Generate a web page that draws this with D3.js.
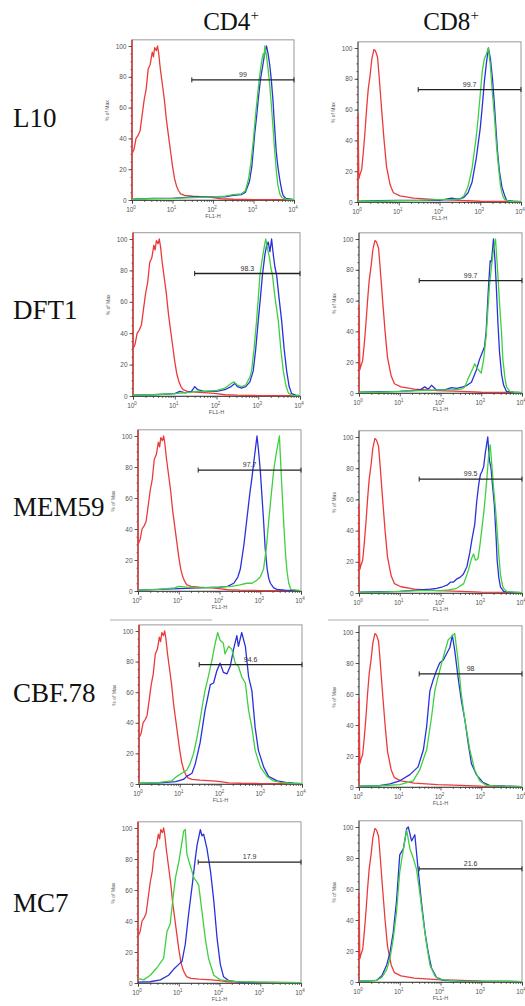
<!DOCTYPE html>
<html>
<head>
<meta charset="utf-8">
<script src="https://cdn.jsdelivr.net/npm/d3@7"></script>
<style>
  body { margin: 0; background: #fff; }
  svg { display: block; }
</style>
</head>
<body>
<div id="chart"></div>
<script>
// ---- data: [log10(FL1-H), % of Max] ----
var rowNames = ["L10", "DFT1", "MEM59", "CBF.78", "MC7"];
var colNames = ["CD4", "CD8"];
var gateLabels = [["99", "99.7"], ["98.3", "99.7"], ["97.7", "99.5"], ["94.6", "98"], ["17.9", "21.6"]];
var gateLevels = [78, 73];          // % of Max where the gate bar sits, CD4 / CD8
var gateRange = [30, 10000];        // FL1-H span of the gate
var xTickLabels = ["0", "1", "2", "3", "4"];
var yTickValues = [0, 20, 40, 60, 80, 100];

// isotype controls (same in every row of a column)
var redCD4 = [[0,0],[0,104],[0,30],[0.05,33],[0.1,40],[0.15,42],[0.2,45],[0.25,55],[0.3,65],[0.35,72],[0.4,85],[0.45,88],[0.5,96],[0.53,93],[0.56,99],[0.6,97],[0.63,100],[0.66,95],[0.7,85],[0.75,75],[0.8,65],[0.85,52],[0.9,42],[0.95,32],[1.0,22],[1.05,14],[1.1,9],[1.15,6],[1.2,4],[1.3,3],[1.5,2.5],[1.8,2],[2.0,1.5],[2.2,0.8],[2.5,0.5],[3,0.3],[4,0.2]];
var redCD8 = [[0,0],[0,57],[0.02,15],[0.05,18],[0.09,21],[0.13,32],[0.17,45],[0.21,60],[0.25,73],[0.3,83],[0.34,93],[0.39,99],[0.43,98],[0.48,94],[0.52,81],[0.58,60],[0.64,40],[0.7,23],[0.79,11],[0.87,6],[1.03,4],[1.36,2.5],[1.93,1.5],[2.5,1],[3,0.5],[4,0.3]];

var l10Cd4Green = [[0,0.5],[0.5,0.8],[1,1],[1.5,1.5],[2,2],[2.3,2.5],[2.5,3.5],[2.7,4],[2.8,6],[2.88,14],[2.94,25],[3.0,40],[3.05,55],[3.1,68],[3.14,78],[3.2,90],[3.24,95],[3.26,93],[3.28,100],[3.32,94],[3.36,85],[3.4,75],[3.44,62],[3.48,48],[3.52,33],[3.56,20],[3.6,10],[3.65,4],[3.7,1.5],[3.8,0.5],[4,0.3]];
var l10Cd4Blue = [[0,0.5],[0.5,1],[1,1],[1.5,2],[2,2],[2.3,2],[2.5,3],[2.7,3.5],[2.8,5],[2.9,12],[2.96,22],[3.03,43],[3.08,55],[3.12,66],[3.17,78],[3.22,86],[3.27,94],[3.32,100],[3.36,95],[3.4,88],[3.44,78],[3.48,65],[3.52,48],[3.56,32],[3.6,22],[3.65,13],[3.7,6],[3.73,3],[3.8,1],[4,0.3]];
var l10Cd8Green = [[0,0.5],[0.5,0.5],[1,0.8],[1.5,1],[2,1.5],[2.3,1.5],[2.5,2],[2.6,4],[2.7,10],[2.8,22],[2.9,42],[2.95,55],[3.0,70],[3.05,85],[3.1,93],[3.15,96],[3.2,100],[3.25,88],[3.3,70],[3.35,55],[3.4,36],[3.45,22],[3.5,10],[3.55,4],[3.6,1.5],[3.7,0.5],[4,0.3]];
var l10Cd8Blue = [[0,0.5],[0.5,0.8],[1,1],[1.5,1],[2,1],[2.3,2.5],[2.4,2],[2.5,2],[2.6,3],[2.7,6],[2.8,13],[2.9,28],[3.0,48],[3.05,62],[3.1,78],[3.15,90],[3.2,100],[3.25,93],[3.3,80],[3.34,66],[3.38,50],[3.42,34],[3.47,20],[3.53,10],[3.6,4],[3.65,1],[3.8,0.5],[4,0.3]];

var dft1Cd4Green = [[0,0.5],[0.5,0.8],[1,1.5],[1.2,2],[1.4,2.5],[1.5,3],[1.7,3],[2,3.5],[2.2,5],[2.35,8],[2.42,9],[2.5,7],[2.6,6],[2.7,7],[2.8,12],[2.84,16],[2.9,30],[2.96,48],[3.0,62],[3.04,77],[3.1,88],[3.15,96],[3.18,100],[3.22,94],[3.27,88],[3.3,82],[3.34,77],[3.4,63],[3.48,48],[3.54,30],[3.6,16],[3.66,7],[3.72,2],[3.8,0.5],[4,0.3]];
var dft1Cd4Blue = [[0,0.5],[0.5,0.8],[1,1.5],[1.12,3],[1.25,2],[1.4,3],[1.48,6],[1.55,4],[1.7,3],[2,3],[2.2,4],[2.35,6],[2.44,8],[2.5,6],[2.6,5],[2.7,6],[2.8,9],[2.88,16],[2.94,30],[3.0,48],[3.05,62],[3.1,77],[3.16,90],[3.2,96],[3.24,98],[3.28,92],[3.32,100],[3.36,90],[3.4,82],[3.44,77],[3.5,62],[3.56,48],[3.62,30],[3.68,16],[3.74,6],[3.8,1.5],[3.9,0.5],[4,0.3]];
var dft1Cd8Green = [[0,0.5],[0.5,0.5],[1,1],[1.5,1.5],[2,2],[2.3,2],[2.5,2.5],[2.6,4],[2.67,9],[2.76,14],[2.84,19],[2.9,16],[3.0,13],[3.06,22],[3.12,37],[3.2,69],[3.25,82],[3.29,91],[3.35,100],[3.4,80],[3.45,58],[3.5,38],[3.53,22],[3.58,10],[3.62,4],[3.7,1],[3.8,0.5],[4,0.3]];
var dft1Cd8Blue = [[0,0.5],[0.5,0.8],[1,1],[1.3,1.5],[1.5,2],[1.61,4],[1.7,2.5],[1.78,5],[1.9,2],[2.1,2],[2.27,3.5],[2.4,3],[2.55,4],[2.65,5],[2.76,7],[2.88,15],[2.96,22],[3.02,26],[3.08,30],[3.12,40],[3.18,70],[3.22,86],[3.25,85],[3.3,100],[3.34,85],[3.37,69],[3.41,45],[3.45,26],[3.5,12],[3.55,5],[3.62,1],[3.8,0.5],[4,0.3]];

var mem59Cd4Green = [[0,0.5],[0.5,1],[0.9,2],[1.0,3],[1.2,2.5],[1.5,2],[2,2.5],[2.3,3],[2.5,4],[2.67,5],[2.8,5],[2.92,7],[3.0,9],[3.08,14],[3.15,28],[3.21,46],[3.27,62],[3.33,78],[3.4,90],[3.47,100],[3.53,67],[3.58,42],[3.62,24],[3.66,12],[3.7,5],[3.75,1],[3.9,0.5],[4,0.3]];
var mem59Cd4Blue = [[0,0.5],[0.5,1],[1,1.5],[1.5,2],[2,2.5],[2.2,3],[2.35,5],[2.45,9],[2.51,14],[2.6,30],[2.67,46],[2.74,62],[2.8,74],[2.85,85],[2.92,100],[2.96,90],[3.0,78],[3.04,62],[3.08,46],[3.12,28],[3.17,14],[3.21,8],[3.25,5],[3.33,2],[3.41,1],[3.6,0.5],[4,0.3]];
var mem59Cd8Green = [[0,0.5],[0.5,0.5],[1,1],[1.5,1.5],[2,1.5],[2.2,2],[2.4,3],[2.57,6],[2.69,15],[2.76,22],[2.81,25],[2.86,21],[2.92,22],[2.96,29],[3.01,40],[3.06,51],[3.1,62],[3.14,74],[3.18,88],[3.22,95],[3.26,82],[3.3,68],[3.35,54],[3.39,40],[3.43,25],[3.47,12],[3.52,5],[3.55,3],[3.62,1],[3.8,0.5],[4,0.3]];
var mem59Cd8Blue = [[0,0.5],[0.5,0.8],[1,1],[1.5,2],[1.75,2.5],[1.91,3],[2.05,4],[2.16,5],[2.25,7],[2.32,7],[2.4,9],[2.48,10],[2.56,12],[2.65,17],[2.72,26],[2.77,34],[2.84,44],[2.89,59],[2.94,70],[2.98,76],[3.02,78],[3.06,81],[3.1,90],[3.16,100],[3.2,85],[3.24,80],[3.28,68],[3.32,57],[3.36,38],[3.39,21],[3.43,10],[3.47,4],[3.55,1],[3.7,0.5],[4,0.3]];

var cbfCd4Green = [[0,0.5],[0.5,1],[0.8,2],[0.93,5],[1.05,7],[1.17,9],[1.25,13],[1.34,20],[1.42,30],[1.5,42],[1.56,52],[1.62,61],[1.7,70],[1.79,81],[1.87,92],[1.93,99],[1.99,94],[2.07,92],[2.11,85],[2.2,90],[2.28,88],[2.36,79],[2.44,77],[2.52,70],[2.61,66],[2.69,48],[2.77,37],[2.85,22],[2.98,11],[3.14,5],[3.3,2],[3.47,1],[3.7,0.5],[4,0.3]];
var cbfCd4Blue = [[0,0.5],[0.5,0.8],[0.9,1.5],[1.09,3],[1.17,5],[1.3,7],[1.38,13],[1.5,27],[1.62,48],[1.75,65],[1.83,66],[1.91,74],[1.99,79],[2.07,73],[2.16,72],[2.24,77],[2.32,88],[2.4,97],[2.44,90],[2.52,99],[2.61,90],[2.69,70],[2.77,61],[2.85,37],[2.93,22],[3.06,11],[3.18,5],[3.39,2],[3.6,1],[3.8,0.5],[4,0.3]];
var cbfCd8Green = [[0,0.5],[0.5,0.8],[1,1.5],[1.33,4],[1.49,11],[1.66,24],[1.78,45],[1.86,62],[1.94,71],[2.07,84],[2.19,95],[2.27,97],[2.35,99],[2.43,82],[2.51,60],[2.6,43],[2.72,24],[2.84,11],[2.96,4],[3.13,1],[3.5,0.5],[4,0.3]];
var cbfCd8Blue = [[0,0.5],[0.5,0.8],[0.76,2],[1.0,4],[1.25,8],[1.45,13],[1.58,24],[1.66,39],[1.74,62],[1.82,69],[1.9,75],[1.98,80],[2.07,82],[2.15,86],[2.23,90],[2.29,98],[2.35,88],[2.43,71],[2.51,56],[2.6,43],[2.68,28],[2.76,15],[2.88,8],[3.04,3],[3.2,1],[3.6,0.5],[4,0.3]];

var mc7Cd4Green = [[0,3],[0.14,2],[0.3,5],[0.47,10],[0.63,16],[0.71,33],[0.79,38],[0.86,55],[0.92,68],[1.0,78],[1.08,91],[1.12,98],[1.16,99],[1.2,83],[1.28,76],[1.37,68],[1.45,65],[1.49,63],[1.57,46],[1.65,29],[1.73,16],[1.86,5],[2.02,2],[2.35,1],[3,0.5],[4,0.3]];
var mc7Cd4Blue = [[0,0.5],[0.3,0.8],[0.55,2],[0.75,5],[0.88,9],[1.0,12],[1.08,14],[1.16,25],[1.24,44],[1.33,63],[1.41,81],[1.45,89],[1.53,99],[1.57,95],[1.61,96],[1.69,87],[1.78,72],[1.86,53],[1.94,29],[2.02,12],[2.1,4],[2.23,1.5],[2.5,0.5],[4,0.3]];
var mc7Cd8Green = [[0,0.5],[0.3,0.8],[0.43,1],[0.56,3],[0.68,8],[0.76,15],[0.84,28],[0.92,45],[1.0,71],[1.09,86],[1.17,98],[1.25,86],[1.33,80],[1.41,73],[1.49,58],[1.58,39],[1.66,24],[1.74,11],[1.86,4],[1.98,1.5],[2.5,0.5],[4,0.3]];
var mc7Cd8Blue = [[0,0.5],[0.3,0.8],[0.43,1],[0.56,4],[0.68,11],[0.76,19],[0.84,32],[0.92,52],[1.0,82],[1.09,86],[1.17,99],[1.21,100],[1.29,91],[1.37,95],[1.45,73],[1.53,52],[1.62,32],[1.7,19],[1.78,9],[1.9,3],[2.07,1],[2.5,0.5],[4,0.3]];

var seriesByRow = [
  [[l10Cd4Blue, l10Cd4Green], [l10Cd8Blue, l10Cd8Green]],
  [[dft1Cd4Blue, dft1Cd4Green], [dft1Cd8Blue, dft1Cd8Green]],
  [[mem59Cd4Blue, mem59Cd4Green], [mem59Cd8Blue, mem59Cd8Green]],
  [[cbfCd4Blue, cbfCd4Green], [cbfCd8Blue, cbfCd8Green]],
  [[mc7Cd4Blue, mc7Cd4Green], [mc7Cd8Blue, mc7Cd8Green]]
];
var controls = [redCD4, redCD8];

// ---- layout (pixel boxes of the scanned panels: x0, x1, y at 100%, y at 0%) ----
var panelBoxes = [
  [[132, 294, 46, 200], [358, 521, 48, 202]],
  [[133, 300, 239, 396], [359, 522, 239, 393]],
  [[138, 301, 436, 591], [359, 522, 437, 593]],
  [[139, 302, 631, 784], [359, 522, 632, 787]],
  [[138, 301, 828, 983], [359, 522, 827, 982]]
];
var rowLabelY = [127, 319, 516, 702, 912];
var headerX = [231, 451];

var colors = { red: "#ec3a3a", green: "#3fd03f", blue: "#2a30dc" };
var sans = "'Liberation Sans', Arial, sans-serif";
var serif = "'Liberation Serif', 'Times New Roman', serif";

var svg = d3.select("#chart").append("svg")
  .attr("width", 525)
  .attr("height", 1006)
  .style("background", "#fff");

// column headers
colNames.forEach(function(name, i) {
  var t = svg.append("text")
    .attr("x", headerX[i])
    .attr("y", 30)
    .attr("text-anchor", "middle")
    .style("font-family", serif)
    .style("font-size", "25px")
    .style("fill", "#111");
  t.append("tspan").text(name);
  t.append("tspan").attr("dy", -10).style("font-size", "15px").text("+");
});

// row labels
rowNames.forEach(function(name, i) {
  svg.append("text")
    .attr("x", 13)
    .attr("y", rowLabelY[i])
    .style("font-family", serif)
    .style("font-size", "27px")
    .style("fill", "#111")
    .text(name);
});

// leftover scan rules above row 4
svg.append("line").attr("x1", 110).attr("x2", 212).attr("y1", 620).attr("y2", 620)
  .style("stroke", "#999").style("stroke-width", 0.8);
svg.append("line").attr("x1", 328).attr("x2", 429).attr("y1", 620).attr("y2", 620)
  .style("stroke", "#999").style("stroke-width", 0.8);

var majorX = [1, 10, 100, 1000, 10000];
var minorX = [];
[1, 10, 100, 1000].forEach(function(p) {
  d3.range(2, 10).forEach(function(k) { minorX.push(p * k); });
});

rowNames.forEach(function(rowName, r) {
  colNames.forEach(function(colName, c) {
    drawPanel(panelBoxes[r][c], controls[c], seriesByRow[r][c], gateLevels[c], gateLabels[r][c]);
  });
});

function drawPanel(box, red, pair, gateLevel, gateText) {
  var x = d3.scaleLog().domain([1, 1e4]).range([box[0], box[1]]);
  var y = d3.scaleLinear().domain([0, 100]).range([box[3], box[2]]);
  var top = y(104);

  var g = svg.append("g");

  // frame
  g.append("rect")
    .attr("x", box[0])
    .attr("y", top)
    .attr("width", box[1] - box[0])
    .attr("height", box[3] - top)
    .style("fill", "none")
    .style("stroke", "#999")
    .style("stroke-width", 1);

  // y axis
  var yMinor = g.append("g")
    .attr("transform", "translate(" + box[0] + ",0)")
    .call(d3.axisLeft(y).tickValues(d3.range(0, 101, 5)).tickSize(1.5).tickFormat(""));
  yMinor.select(".domain").remove();
  var yAx = g.append("g")
    .attr("transform", "translate(" + box[0] + ",0)")
    .call(d3.axisLeft(y).tickValues(yTickValues).tickSize(3.5).tickPadding(2));
  yAx.select(".domain").attr("d", "M0," + box[3] + "V" + top);
  yAx.selectAll("text")
    .style("font-family", sans)
    .style("font-size", "6.5px")
    .style("fill", "#555");
  g.selectAll(".tick line, .domain").style("stroke", "#333").style("stroke-width", 0.8);

  g.append("text")
    .attr("transform", "translate(" + (box[0] - 23) + "," + y(58) + ") rotate(-90)")
    .attr("text-anchor", "middle")
    .style("font-family", sans)
    .style("font-size", "5px")
    .style("fill", "#555")
    .text("% of Max");

  // x axis (log)
  var xMinor = g.append("g")
    .attr("transform", "translate(0," + box[3] + ")")
    .call(d3.axisBottom(x).tickValues(minorX).tickSize(2).tickFormat(""));
  xMinor.select(".domain").remove();
  var xAx = g.append("g")
    .attr("transform", "translate(0," + box[3] + ")")
    .call(d3.axisBottom(x).tickValues(majorX).tickSize(3.5).tickFormat(""));
  xAx.selectAll(".tick line, .domain").style("stroke", "#333").style("stroke-width", 0.8);
  xMinor.selectAll(".tick line").style("stroke", "#333").style("stroke-width", 0.7);

  majorX.forEach(function(v, i) {
    var t = g.append("text")
      .attr("x", x(v) - 1)
      .attr("y", box[3] + 12)
      .attr("text-anchor", "middle")
      .style("font-family", sans)
      .style("font-size", "6.5px")
      .style("fill", "#555");
    t.append("tspan").text("10");
    t.append("tspan").attr("dy", -3).style("font-size", "4.5px").text(xTickLabels[i]);
  });

  g.append("text")
    .attr("x", (box[0] + box[1]) / 2)
    .attr("y", box[3] + 18)
    .attr("text-anchor", "middle")
    .style("font-family", sans)
    .style("font-size", "5.5px")
    .style("fill", "#555")
    .text("FL1-H");

  // histograms
  var clipId = "clip" + Math.round(box[0]) + "_" + Math.round(box[3]);
  g.append("clipPath").attr("id", clipId)
    .append("rect")
    .attr("x", box[0] - 1).attr("y", top)
    .attr("width", box[1] - box[0] + 2).attr("height", box[3] - top + 1);

  var line = d3.line()
    .x(function(d) { return x(Math.pow(10, d[0])); })
    .y(function(d) { return y(d[1]); });

  var curves = g.append("g").attr("clip-path", "url(#" + clipId + ")");
  [[red, colors.red], [pair[0], colors.blue], [pair[1], colors.green]].forEach(function(s) {
    curves.append("path")
      .datum(s[0])
      .attr("d", line)
      .style("fill", "none")
      .style("stroke", s[1])
      .style("stroke-width", 1.3)
      .style("stroke-linejoin", "round");
  });

  // gate
  var gx0 = x(gateRange[0]), gx1 = x(gateRange[1]), gy = y(gateLevel);
  g.append("line")
    .attr("x1", gx0).attr("x2", gx1).attr("y1", gy).attr("y2", gy)
    .style("stroke", "#222").style("stroke-width", 1.4);
  [gx0, gx1].forEach(function(px) {
    g.append("line")
      .attr("x1", px).attr("x2", px).attr("y1", gy - 2.5).attr("y2", gy + 2.5)
      .style("stroke", "#222").style("stroke-width", 1);
  });
  g.append("text")
    .attr("x", (gx0 + gx1) / 2)
    .attr("y", gy - 3)
    .attr("text-anchor", "middle")
    .style("font-family", sans)
    .style("font-size", "7px")
    .style("fill", "#333")
    .text(gateText);
}
</script>
</body>
</html>
